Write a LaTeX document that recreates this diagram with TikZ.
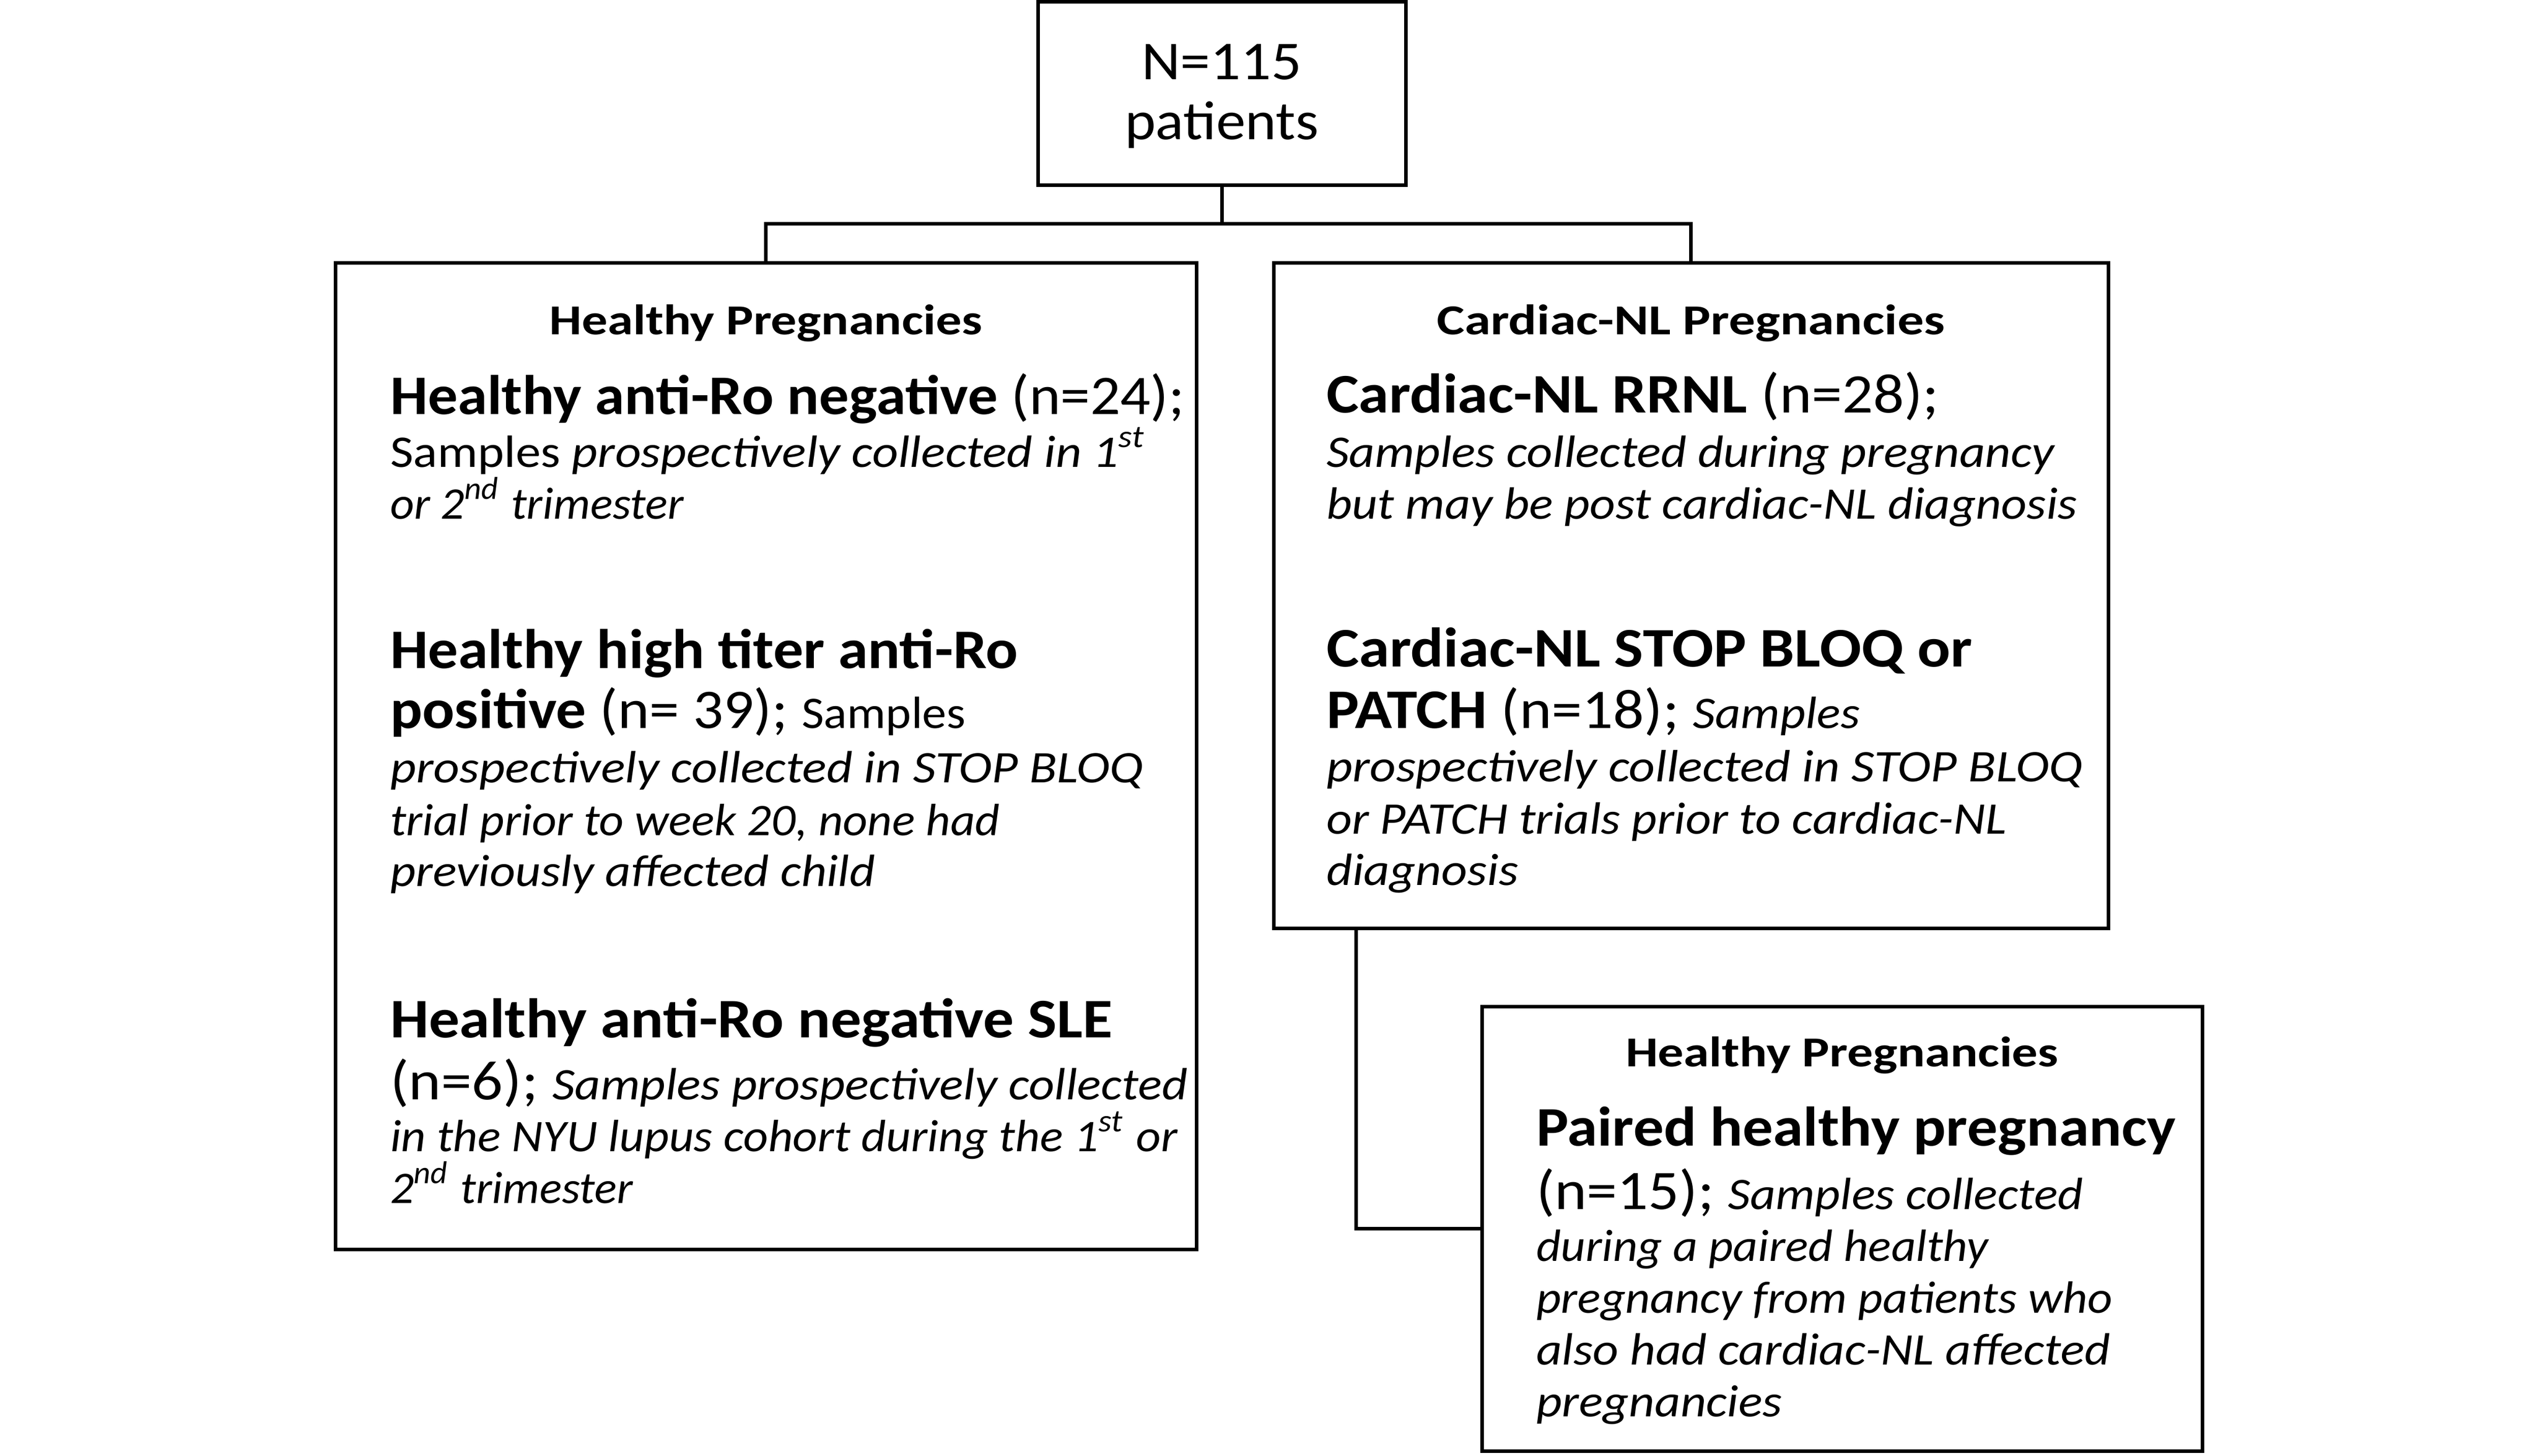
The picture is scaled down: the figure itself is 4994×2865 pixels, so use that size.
\documentclass[tikz,border=0pt]{standalone}
\usepackage{graphicx}
\usepackage{fontspec}
\setmainfont{Carlito}
\newcommand\bodyf{\fontsize{8.9}{10.5}\selectfont}
\newcommand\labf{\fontsize{11}{13}\selectfont}
\newcommand\ttlf{\fontsize{8.4}{10}\selectfont\bfseries}
\newcommand\topf{\fontsize{10.8}{13}\selectfont}
\newcommand\fw[2]{\resizebox{#1}{\height}{#2}}
\tikzset{
  box/.style={draw, line width=0.7pt, rectangle, inner sep=0pt, outer sep=0pt},
  txt/.style={anchor=base west, inner sep=0pt, outer sep=0pt},
  ctxt/.style={anchor=base, inner sep=0pt, outer sep=0pt},
  conn/.style={line width=0.7pt}
}
\begin{document}
\begin{tikzpicture}[x=0.1pt,y=-0.1pt]
\useasboundingbox (0,0) rectangle (4994,2865);
% boxes
\node[box, minimum width=72.4pt, minimum height=36.1pt] (top) at (2405,184) {};
\node[box, minimum width=169.5pt, minimum height=194.2pt] (left) at (1507.5,1488) {};
\node[box, minimum width=164.3pt, minimum height=131pt] (right) at (3328.5,1172) {};
\node[box, minimum width=141.8pt, minimum height=87.5pt] (small) at (3626,2418.5) {};
% connectors
\draw[conn] (top.south) -- ++(0,76) coordinate (j);
\draw[conn] (left.north) |- (j) -| (right.north);
\draw[conn] ([xshift=16.2pt]right.south west) |- (small.west);
% top text
\node[ctxt] (n1) at (2405,156) {\fw{31.5pt}{\topf N=115}};
\node[ctxt] (n2) at (2405,274) {\fw{38.2pt}{\topf patients}};
% titles
\node[ctxt] (t1) at (1507.5,658) {\fw{85.2pt}{\ttlf Healthy Pregnancies}};
\node[ctxt] (t2) at (3328.5,658) {\fw{100pt}{\ttlf Cardiac-NL Pregnancies}};
\node[ctxt] (t3) at (3626,2099) {\fw{85.2pt}{\ttlf Healthy Pregnancies}};
% left box
\node[txt] (l1) at (768,815) {\fw{156.4pt}{\labf\textbf{Healthy anti-Ro negative} (n=24);}};
\node[txt] (l2) at (768,919) {\fw{148.9pt}{\bodyf Samples \textit{prospectively collected in 1\textsuperscript{st}}}};
\node[txt] (l3) at (768,1021) {\fw{57.8pt}{\bodyf\itshape or 2\textsuperscript{nd} trimester}};
\node[txt] (l4) at (768,1315) {\fw{123.6pt}{\labf\bfseries Healthy high titer anti-Ro}};
\node[txt] (l5) at (768,1433) {\fw{113.3pt}{\labf\textbf{positive} (n= 39); \bodyf Samples}};
\node[txt] (l6) at (768,1540) {\fw{148.3pt}{\bodyf\itshape prospectively collected in STOP BLOQ}};
\node[txt] (l7) at (768,1644) {\fw{120pt}{\bodyf\itshape trial prior to week 20, none had}};
\node[txt] (l8) at (768,1744) {\fw{95.5pt}{\bodyf\itshape previously affected child}};
\node[txt] (l9) at (768,2042) {\fw{142.2pt}{\labf\bfseries Healthy anti-Ro negative SLE}};
\node[txt] (l10) at (768,2164) {\fw{157pt}{\labf (n=6); \bodyf\itshape Samples prospectively collected}};
\node[txt] (l11) at (768,2266) {\fw{155pt}{\bodyf\itshape in the NYU lupus cohort during the 1\textsuperscript{st} or}};
\node[txt] (l12) at (768,2368) {\fw{47.8pt}{\bodyf\itshape 2\textsuperscript{nd} trimester}};
% right box
\node[txt] (r1) at (2611,812) {\fw{120.6pt}{\labf\textbf{Cardiac-NL RRNL} (n=28);}};
\node[txt] (r2) at (2611,919) {\fw{143.3pt}{\bodyf\itshape Samples collected during pregnancy}};
\node[txt] (r3) at (2611,1021) {\fw{147.8pt}{\bodyf\itshape but may be post cardiac-NL diagnosis}};
\node[txt] (r4) at (2611,1312) {\fw{127.2pt}{\labf\bfseries Cardiac-NL STOP BLOQ or}};
\node[txt] (r5) at (2611,1433) {\fw{105pt}{\labf\textbf{PATCH} (n=18); \bodyf\itshape Samples}};
\node[txt] (r6) at (2611,1538) {\fw{148.9pt}{\bodyf\itshape prospectively collected in STOP BLOQ}};
\node[txt] (r7) at (2611,1641) {\fw{133.9pt}{\bodyf\itshape or PATCH trials prior to cardiac-NL}};
\node[txt] (r8) at (2611,1742) {\fw{37.8pt}{\bodyf\itshape diagnosis}};
% small box
\node[txt] (s1) at (3024,2255) {\fw{125.9pt}{\labf\bfseries Paired healthy pregnancy}};
\node[txt] (s2) at (3024,2380) {\fw{107.7pt}{\labf (n=15); \bodyf\itshape Samples collected}};
\node[txt] (s3) at (3024,2482) {\fw{89pt}{\bodyf\itshape during a paired healthy}};
\node[txt] (s4) at (3024,2584) {\fw{113.4pt}{\bodyf\itshape pregnancy from patients who}};
\node[txt] (s5) at (3024,2686) {\fw{113pt}{\bodyf\itshape also had cardiac-NL affected}};
\node[txt] (s6) at (3024,2788) {\fw{48.4pt}{\bodyf\itshape pregnancies}};
\end{tikzpicture}
\end{document}
